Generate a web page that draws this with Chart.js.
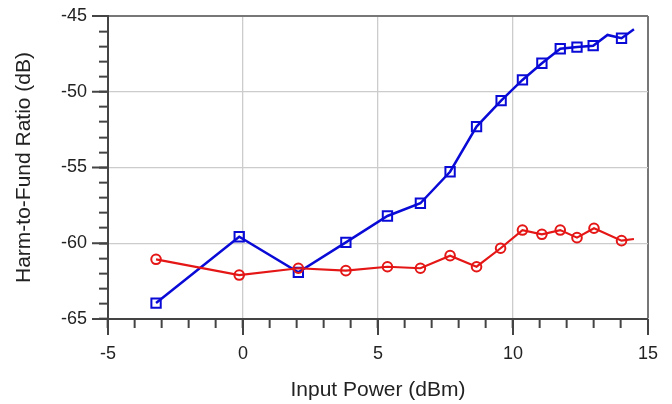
<!DOCTYPE html>
<html>
<head>
<meta charset="utf-8">
<script src="https://cdn.jsdelivr.net/npm/chart.js@4/dist/chart.umd.min.js"></script>
<style>
  body { margin: 0; background: #fff; }
  #wrap { width: 672px; height: 404px; }
</style>
</head>
<body>
<div id="wrap"><canvas id="chart" width="672" height="404"></canvas></div>
<script>
// harmonic series (blue squares)
const blueX = [-3.22, -0.14, 2.05, 3.81, 5.35, 6.57, 7.67, 8.65, 9.56, 10.35, 11.07, 11.75, 12.37, 12.97, 13.5, 14.02, 14.48];
const blueY = [-63.95, -59.57, -61.92, -59.94, -58.2, -57.36, -55.28, -52.3, -50.59, -49.22, -48.12, -47.16, -47.05, -46.96, -46.25, -46.47, -45.88];
const blueMark = [1, 1, 1, 1, 1, 1, 1, 1, 1, 1, 1, 1, 1, 1, 0, 1, 0];

// second series (red circles)
const redX = [-3.22, -0.14, 2.05, 3.81, 5.35, 6.57, 7.67, 8.65, 9.54, 10.35, 11.07, 11.75, 12.37, 13.0, 14.02, 14.48];
const redY = [-61.06, -62.1, -61.65, -61.81, -61.55, -61.65, -60.82, -61.55, -60.33, -59.13, -59.41, -59.13, -59.63, -59.01, -59.83, -59.72];
const redMark = [1, 1, 1, 1, 1, 1, 1, 1, 1, 1, 1, 1, 1, 1, 1, 0];

const xTicks = [-5, 0, 5, 10, 15];
const yTicks = [-65, -60, -55, -50, -45];

function pts(xs, ys) {
    return xs.map((x, i) => ({ x: x, y: ys[i] }));
}
function isMajor(v, list) {
    return list.indexOf(v) >= 0;
}

// longer tick marks at the labelled values
const majorTicks = {
    id: "majorTicks",
    afterDraw(chart) {
        const ctx = chart.ctx;
        const xs = chart.scales.x, ys = chart.scales.y;
        ctx.save();
        ctx.strokeStyle = "#444";
        ctx.lineWidth = 2;
        ctx.beginPath();
        xTicks.forEach(v => {
            const px = xs.getPixelForValue(v);
            ctx.moveTo(px, xs.top);
            ctx.lineTo(px, xs.top + 16);
        });
        yTicks.forEach(v => {
            const py = ys.getPixelForValue(v);
            ctx.moveTo(ys.right, py);
            ctx.lineTo(ys.right - 16, py);
        });
        ctx.stroke();
        ctx.restore();
    }
};

const font = { family: "'Liberation Sans', Arial, sans-serif", size: 18 };
const titleFont = { family: font.family, size: 21 };

new Chart(document.getElementById("chart"), {
    type: "scatter",
    data: {
        datasets: [{
            data: pts(redX, redY),
            showLine: true,
            borderColor: "rgb(228,22,22)",
            borderWidth: 2.2,
            pointStyle: "circle",
            pointRadius: redMark.map(m => m ? 4.8 : 0),
            pointBorderWidth: 2,
            pointBackgroundColor: "rgba(0,0,0,0)",
            pointBorderColor: "rgb(228,22,22)",
            tension: 0
        }, {
            data: pts(blueX, blueY),
            showLine: true,
            borderColor: "rgb(10,10,215)",
            borderWidth: 2.5,
            pointStyle: "rect",
            pointRadius: blueMark.map(m => m ? 6.6 : 0),
            pointBorderWidth: 2,
            pointBackgroundColor: "rgba(0,0,0,0)",
            pointBorderColor: "rgb(10,10,215)",
            tension: 0
        }]
    },
    options: {
        responsive: false,
        animation: false,
        layout: { padding: { top: 16, right: 24, left: 0, bottom: 0 } },
        plugins: { legend: { display: false }, tooltip: { enabled: false } },
        scales: {
            x: {
                type: "linear",
                min: -5,
                max: 15,
                afterFit: s => { s.height = 85; s.paddingLeft = 0; s.paddingRight = 0; },
                ticks: {
                    stepSize: 1,
                    autoSkip: false,
                    maxRotation: 0,
                    padding: 15,
                    color: "#222",
                    font: font,
                    callback: v => isMajor(v, xTicks) ? String(v) : ""
                },
                grid: {
                    color: c => c.tick && c.tick.value === 15 ? "#777" : (c.tick && isMajor(c.tick.value, xTicks) ? "#cccccc" : "rgba(0,0,0,0)"),
                    lineWidth: c => c.tick && c.tick.value === 15 ? 2 : 1.3,
                    tickColor: "#444",
                    tickLength: 9,
                    tickWidth: 2
                },
                border: { color: "#444", width: 2 },
                title: {
                    display: true,
                    text: "Input Power (dBm)",
                    color: "#222",
                    font: titleFont,
                    padding: { top: 4, bottom: 1.5 }
                }
            },
            y: {
                type: "linear",
                min: -65,
                max: -45,
                afterFit: s => { s.width = 108; s.paddingTop = 0; s.paddingBottom = 0; },
                ticks: {
                    stepSize: 1,
                    autoSkip: false,
                    padding: 12,
                    color: "#222",
                    font: font,
                    callback: v => isMajor(v, yTicks) ? String(v) : ""
                },
                grid: {
                    color: c => c.tick && c.tick.value === -45 ? "#777" : (c.tick && isMajor(c.tick.value, yTicks) ? "#cccccc" : "rgba(0,0,0,0)"),
                    lineWidth: c => c.tick && c.tick.value === -45 ? 2 : 1.3,
                    tickColor: "#444",
                    tickLength: 9,
                    tickWidth: 2
                },
                border: { color: "#444", width: 2 },
                title: {
                    display: true,
                    text: "Harm-to-Fund Ratio (dB)",
                    color: "#222",
                    font: titleFont,
                    padding: { top: 12, bottom: 0 }
                }
            }
        }
    },
    plugins: [majorTicks]
});
</script>
</body>
</html>
